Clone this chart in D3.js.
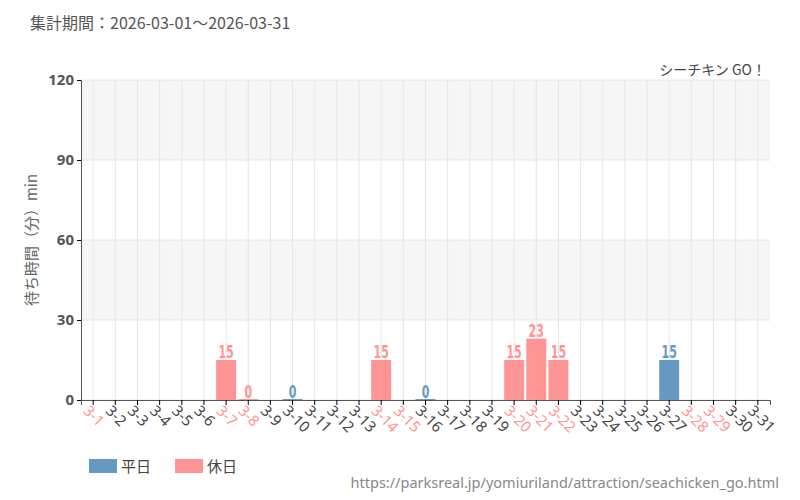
<!DOCTYPE html><html><head><meta charset="utf-8"><script src="https://cdn.jsdelivr.net/npm/d3@7"></script>
<style>body{margin:0;background:#fff}text{font-family:"Noto Sans CJK JP","Noto Sans",sans-serif}</style></head><body><svg id="c" width="800" height="500"></svg><script>
const days=d3.range(1,32).map(d=>"3-"+d);
const holidays=["3-1","3-7","3-8","3-14","3-15","3-20","3-21","3-22","3-28","3-29"];
const values=[null,null,null,null,null,null,15,0,null,0,null,null,null,15,null,0,null,null,null,15,23,15,null,null,null,null,15,null,null,null,null];
const yTicks=[0,30,60,90,120];
const cW="#6699c2",cH="#ff9494";
const svg=d3.select("#c");
const L=81,R=770,T=80,B=400;
const x=d3.scaleBand().domain(days).range([L,R]).padding(0.1);
const y=d3.scaleLinear().domain([0,120]).range([B,T]);
svg.append("text").attr("x",30).attr("y",29).attr("font-size",16).attr("fill","#555").text("集計期間：2026-03-01～2026-03-31");
for(let i=0;i<4;i++){svg.append("rect").attr("x",L).attr("width",R-L).attr("y",y(yTicks[i+1])).attr("height",y(yTicks[i])-y(yTicks[i+1])).attr("fill",i%2?"#f6f6f6":"#fff");}
yTicks.forEach(t=>svg.append("line").attr("x1",L).attr("x2",R).attr("y1",y(t)).attr("y2",y(t)).attr("stroke","#e6e6e6"));
days.forEach(d=>svg.append("line").attr("x1",x(d)+x.bandwidth()/2).attr("x2",x(d)+x.bandwidth()/2).attr("y1",T).attr("y2",B).attr("stroke","#e6e6e6"));
const isH=d=>holidays.includes(d);
days.forEach((d,i)=>{const v=values[i];if(v===null)return;const c=isH(d)?cH:cW;const cx=x(d)+x.bandwidth()/2;
 svg.append("rect").attr("x",x(d)).attr("width",x.bandwidth()).attr("y",y(v)-(v===0?1:0)).attr("height",Math.max(1,y(0)-y(v))).attr("fill",c);
 svg.append("text").attr("text-anchor","middle").attr("font-size",17).attr("font-weight","bold").attr("fill",c).style("font-family","DejaVu Sans Condensed").attr("transform",`translate(${cx},${y(v)-2}) scale(0.72,1)`).text(v);});
const ya=svg.append("g").attr("transform",`translate(${L},0)`).call(d3.axisLeft(y).tickValues(yTicks).tickSize(4));
ya.selectAll("text").attr("font-size",15).attr("font-weight","bold").attr("fill","#555").style("font-family","Noto Sans");
ya.select(".domain").attr("stroke","#555");
const xa=svg.append("g").attr("transform",`translate(0,${B})`).call(d3.axisBottom(x).tickSize(5));
xa.select(".domain").attr("stroke","#555");
xa.selectAll("text").attr("font-size",15).attr("fill",d=>isH(d)?cH:"#444").style("font-family","Noto Sans").attr("text-anchor","start").attr("y",0).attr("dy","0.35em").attr("transform","translate(-7,8) rotate(45)");
svg.append("text").attr("transform","translate(37,240) rotate(-90)").attr("text-anchor","middle").attr("font-size",15).attr("fill","#666").text("待ち時間（分）min");
svg.append("text").attr("x",766).attr("y",75).attr("text-anchor","end").attr("font-size",14).attr("fill","#444").text("シーチキン GO！");
svg.append("rect").attr("x",89).attr("y",459).attr("width",28).attr("height",14).attr("fill",cW);
svg.append("text").attr("x",121).attr("y",472).attr("font-size",15).attr("fill","#444").text("平日");
svg.append("rect").attr("x",175).attr("y",459).attr("width",28).attr("height",14).attr("fill",cH);
svg.append("text").attr("x",207).attr("y",472).attr("font-size",15).attr("fill","#444").text("休日");
svg.append("text").attr("x",779).attr("y",488).attr("text-anchor","end").attr("font-size",14.5).attr("fill","#888").style("font-family","Noto Sans").text("https://parksreal.jp/yomiuriland/attraction/seachicken_go.html");
</script></body></html>
